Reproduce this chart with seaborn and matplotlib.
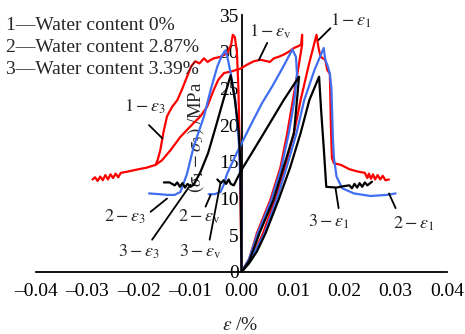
import matplotlib
matplotlib.use("Agg")
import matplotlib.pyplot as plt
import seaborn as sns

sns.set_style("white")
plt.rcParams["font.family"] = ["Liberation Serif", "DejaVu Serif"]
plt.rcParams["mathtext.fontset"] = "stix"

# --- data (strain, stress MPa) ---
# 1 - water content 0 % (red)
red_e1_x = [0, 0.0015, 0.003, 0.0042, 0.0065, 0.0085, 0.0102, 0.0115, 0.0132, 0.0146, 0.0150, 0.0154,
            0.0163, 0.0167, 0.0172, 0.0174, 0.0176, 0.0180, 0.0193, 0.0210, 0.0225, 0.0240, 0.0245,
            0.0248, 0.0252, 0.0256, 0.0260, 0.0265, 0.0270, 0.0275, 0.0280, 0.0287]
red_e1_y = [0, 1.5, 3.5, 5.3, 9.8, 14.3, 18.9, 23.4, 28.5, 32.3, 30.5, 29.3,
            28.9, 27.5, 27.0, 20.0, 15.5, 14.8, 14.6, 14.0, 13.7, 13.5, 12.8,
            13.4, 12.7, 13.3, 12.6, 13.2, 12.6, 13.1, 12.5, 12.6]
red_ev_x = [0, 0.0015, 0.003, 0.0056, 0.0076, 0.0089, 0.0100, 0.0110, 0.0118, 0.0118, 0.0116, 0.0112,
            0.0102, 0.0092, 0.0082, 0.0072, 0.0063, 0.0055, 0.0050, 0.0037, 0.0024, 0.0010, -0.0002,
            -0.0020, -0.0034, -0.0045, -0.0054, -0.0067, -0.0080, -0.0093, -0.0119, -0.0138, -0.0155, -0.0167]
red_ev_y = [0, 1.8, 5.3, 9.8, 14.3, 18.9, 23.4, 27.5, 31.0, 32.3, 31.0, 30.8,
            30.5, 30.0, 29.6, 29.3, 29.1, 28.6, 28.7, 28.9, 28.7, 28.2, 27.7,
            27.3, 27.1, 26.2, 24.8, 22.5, 21.2, 20.3, 18.4, 16.6, 15.2, 14.6]
red_e3_x = [0, -0.0003, -0.0006, -0.0009, -0.0013, -0.0017, -0.0020, -0.0028, -0.0041, -0.0054, -0.0062,
            -0.0066, -0.0073, -0.0082, -0.0090, -0.0098, -0.0106, -0.0115, -0.0125, -0.0135, -0.0145,
            -0.0152, -0.0158, -0.0163, -0.0167, -0.0185, -0.0200, -0.0220, -0.0235, -0.0240, -0.0245,
            -0.0250, -0.0255, -0.0260, -0.0265, -0.0270, -0.0275, -0.0280, -0.0285, -0.0290]
red_e3_y = [0, 15.0, 25.0, 30.0, 32.0, 32.3, 31.0, 29.8, 29.3, 29.1, 28.8,
            28.6, 29.1, 28.4, 28.7, 28.0, 26.6, 25.0, 23.4, 22.5, 21.2,
            19.0, 16.6, 15.3, 14.6, 14.2, 14.0, 13.7, 13.5, 12.9, 13.4,
            12.8, 13.3, 12.6, 13.2, 12.5, 13.0, 12.4, 12.9, 12.6]

# 2 - water content 2.87 % (blue)
blue_e1_x = [0, 0.0015, 0.003, 0.0045, 0.0068, 0.0088, 0.0107, 0.0122, 0.0142, 0.0160, 0.0163, 0.0168,
             0.0172, 0.0175, 0.0178, 0.0180, 0.0185, 0.0196, 0.0219, 0.0251, 0.0283, 0.0300]
blue_e1_y = [0, 1.5, 3.3, 5.3, 9.8, 14.3, 18.9, 23.4, 27.5, 30.5, 28.9, 28.0,
             27.0, 25.0, 18.0, 15.5, 13.0, 11.4, 10.7, 10.35, 10.5, 10.7]
blue_ev_x = [0, 0.0015, 0.003, 0.0058, 0.0078, 0.0092, 0.0103, 0.0108, 0.0106, 0.0099, 0.0080, 0.0060,
             0.0040, 0.0020, 0, -0.0008, -0.0018, -0.0028, -0.0035, -0.0041, -0.0052, -0.0064]
blue_ev_y = [0, 1.8, 5.0, 9.8, 14.3, 18.9, 23.4, 27.0, 29.3, 30.3, 27.8, 25.3,
             23.0, 20.3, 17.5, 16.4, 14.9, 13.4, 11.8, 10.9, 10.6, 10.6]
blue_e3_x = [0, -0.0001, -0.0005, -0.0012, -0.0021, -0.0026, -0.0031, -0.0038, -0.0047, -0.0060, -0.0073,
             -0.0093, -0.0106, -0.0113, -0.0119, -0.0130, -0.0145, -0.0160, -0.0180]
blue_e3_y = [0, 10.0, 17.5, 23.4, 27.0, 28.8, 30.2, 29.5, 28.0, 24.8, 21.2,
             17.1, 13.4, 12.0, 10.9, 10.5, 10.5, 10.6, 10.7]

# 3 - water content 3.39 % (black)
black_e1_x = [0, 0.0015, 0.003, 0.0047, 0.0072, 0.0095, 0.0115, 0.0132, 0.0151, 0.0155, 0.0160, 0.0165,
              0.0185, 0.0200, 0.0210, 0.0215, 0.0220, 0.0225, 0.0230, 0.0235, 0.0240, 0.0245, 0.0254]
black_e1_y = [0, 1.2, 2.8, 5.3, 9.8, 14.3, 18.9, 23.4, 26.6, 22.0, 17.0, 11.6,
              11.5, 11.7, 11.8, 11.4, 12.0, 11.5, 12.1, 11.6, 12.2, 11.8, 12.3]
black_ev_x = [0, 0.0015, 0.0035, 0.0062, 0.0082, 0.0102, 0.0108, 0.0112, 0.0082, 0.0040, 0,
              -0.0008, -0.0015, -0.0021, -0.0025, -0.0030, -0.0035, -0.0040, -0.0047]
black_ev_y = [0, 1.5, 5.3, 9.8, 14.3, 18.9, 23.4, 26.6, 23.4, 18.5, 13.9,
              12.8, 11.8, 12.0, 12.6, 12.0, 12.5, 12.1, 12.6]
black_e3_x = [0, -0.0002, -0.0005, -0.0013, -0.0021, -0.0035, -0.0050, -0.0065, -0.0080, -0.0093, -0.0099,
              -0.0105, -0.0110, -0.0115, -0.0120, -0.0125, -0.0130, -0.0140, -0.0151]
black_e3_y = [0, 14.3, 18.9, 23.5, 26.8, 23.5, 19.8, 16.2, 13.6, 11.9, 11.6,
              12.0, 11.5, 12.1, 11.6, 12.2, 11.8, 12.2, 12.2]

legend_lines = ["1\u2014Water content 0%", "2\u2014Water content 2.87%", "3\u2014Water content 3.39%"]
x_ticks = [-0.04, -0.03, -0.02, -0.01, 0.0, 0.01, 0.02, 0.03, 0.04]
x_tick_labels = ["\u20130.04", "\u20130.03", "\u20130.02", "\u20130.01", "0.00", "0.01", "0.02", "0.03", "0.04"]
y_ticks = [0, 5, 10, 15, 20, 25, 30, 35]

RED, BLUE, BLACK = "#ff0000", "#3f6ff0", "#000000"
curves = [
    (red_e3_x, red_e3_y, RED), (red_ev_x, red_ev_y, RED), (red_e1_x, red_e1_y, RED),
    (blue_e3_x, blue_e3_y, BLUE), (blue_ev_x, blue_ev_y, BLUE), (blue_e1_x, blue_e1_y, BLUE),
    (black_e3_x, black_e3_y, BLACK), (black_ev_x, black_ev_y, BLACK), (black_e1_x, black_e1_y, BLACK),
]

# curve labels: text, text position, pointer start, pointer end
labels = [
    (r"$1-\varepsilon_{\rm v}$", (0.0056, 32.7), (0.0050, 31.2), (0.0034, 28.9)),
    (r"$1-\varepsilon_1$", (0.0212, 34.2), (0.0173, 33.2), (0.0150, 31.6)),
    (r"$1-\varepsilon_3$", (-0.0187, 22.5), (-0.0180, 20.0), (-0.0154, 18.2)),
    (r"$2-\varepsilon_3$", (-0.0226, 7.5), (-0.0177, 8.2), (-0.0145, 10.0)),
    (r"$3-\varepsilon_3$", (-0.0200, 2.7), (-0.0174, 4.4), (-0.0099, 11.9)),
    (r"$2-\varepsilon_{\rm v}$", (-0.0082, 7.5), (-0.0070, 8.9), (-0.0060, 10.5)),
    (r"$3-\varepsilon_{\rm v}$", (-0.0080, 2.7), (-0.0062, 4.4), (-0.0041, 12.1)),
    (r"$3-\varepsilon_1$", (0.0169, 6.8), (0.0189, 8.7), (0.0183, 11.4)),
    (r"$2-\varepsilon_1$", (0.0335, 6.5), (0.0300, 8.7), (0.0287, 10.7)),
]

fig = plt.figure(figsize=(4.65, 3.34), dpi=100)
ax = fig.add_axes([36 / 465, 62 / 334, 411 / 465, 257 / 334])

for xs, ys, c in curves:
    sns.lineplot(x=xs, y=ys, sort=False, estimator=None, color=c, lw=1.6, ax=ax, zorder=3)

for txt, tpos, p0, p1 in labels:
    ax.annotate("", xy=p1, xytext=p0,
                arrowprops=dict(arrowstyle="-", lw=1.3, color="black", shrinkA=0, shrinkB=0))
    ax.text(tpos[0], tpos[1], txt, ha="center", va="center", fontsize=13)

ax.set_xlim(-0.04, 0.04)
ax.set_ylim(0, 35)
ax.set_xticks(x_ticks)
ax.set_xticklabels(x_tick_labels)
ax.set_yticks(y_ticks)
for s in ["top", "right"]:
    ax.spines[s].set_visible(False)
ax.spines["left"].set_position(("data", 0))
for s in ["left", "bottom"]:
    ax.spines[s].set_linewidth(1.3)
    ax.spines[s].set_color("black")
ax.tick_params(axis="both", direction="in", length=5, width=1.3, labelsize=14, colors="black")
ax.tick_params(axis="x", pad=8)
ax.tick_params(axis="y", pad=2)

ax.text(-0.009, 18.4, r"$(\sigma_1-\sigma_3)$ /MPa", rotation=90, ha="center", va="center",
        fontsize=13.5, zorder=0)
fig.text(240 / 465, 1 - 326 / 334, r"$\varepsilon$ /%", ha="center", va="center", fontsize=14)

for i, line in enumerate(legend_lines):
    fig.text(6 / 465, 1 - (25 + 22.5 * i) / 334, line, ha="left", va="center", fontsize=14)

fig.savefig("out.png", dpi=100)
